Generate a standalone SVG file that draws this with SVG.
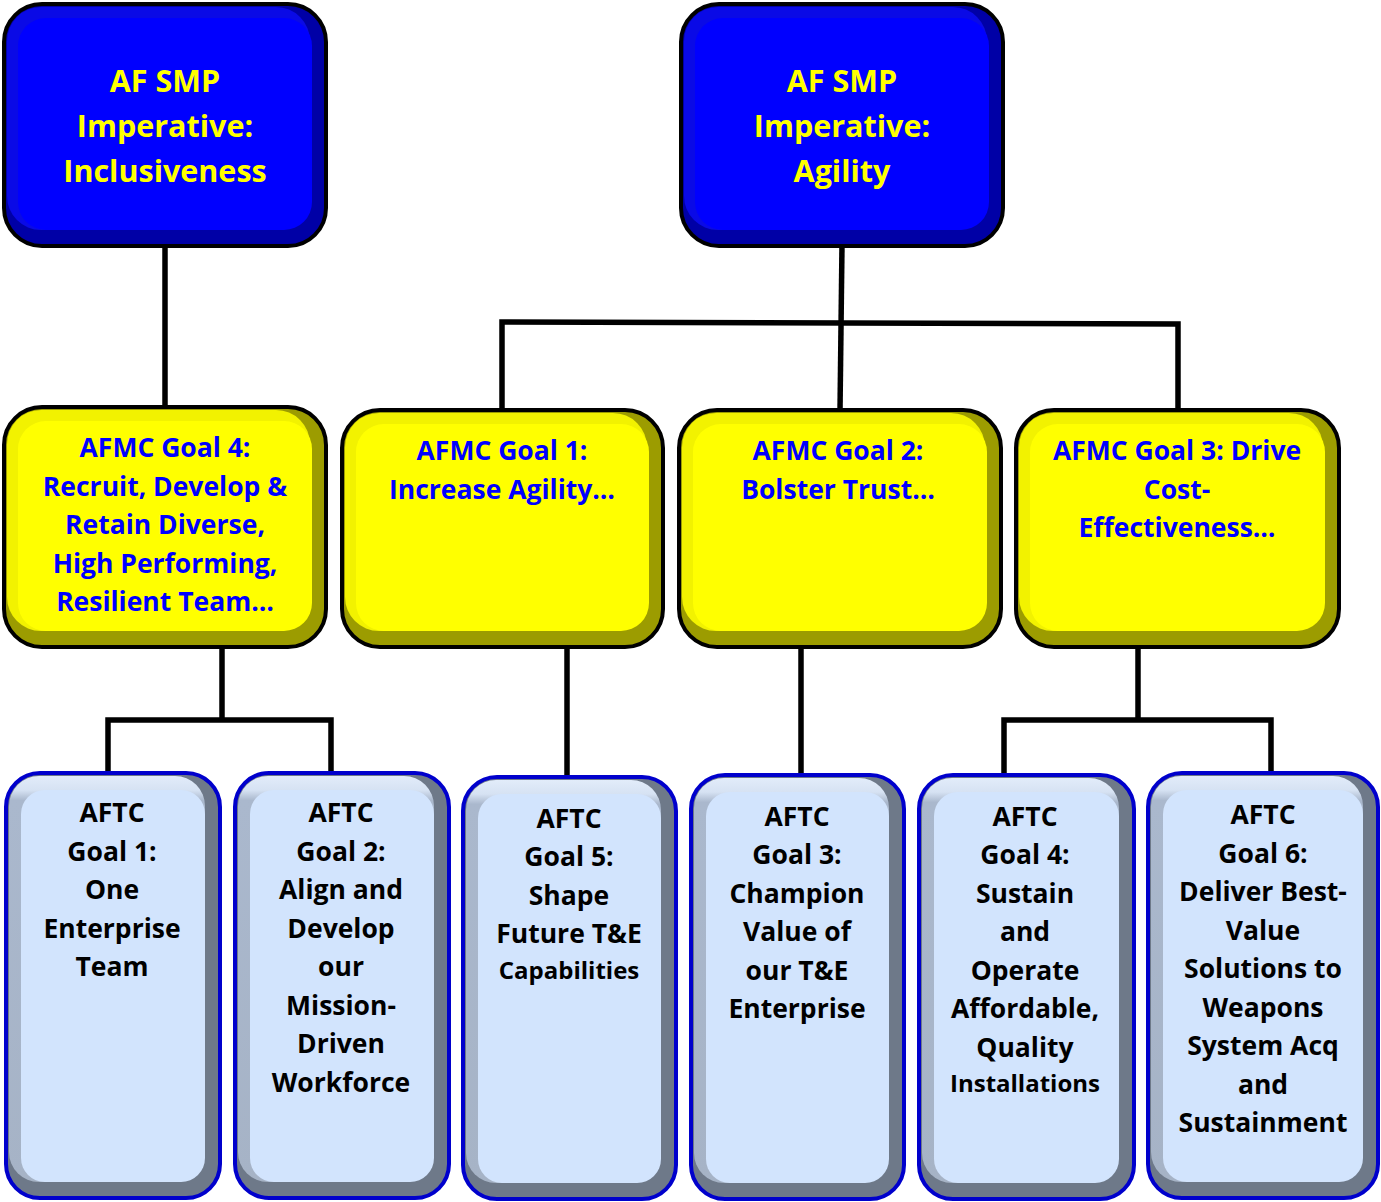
<svg xmlns="http://www.w3.org/2000/svg" width="1381" height="1202" viewBox="0 0 1381 1202">
<defs>
<linearGradient id="lmid" x1="0" y1="0" x2="0" y2="1">
<stop offset="0" stop-color="#e2ecfa"/>
<stop offset="0.035" stop-color="#d6e2f3"/>
<stop offset="0.06" stop-color="#aab8cd"/>
<stop offset="1" stop-color="#a6b3c6"/>
</linearGradient>
</defs>
<style>
.con{fill:none;stroke:#000;stroke-width:5.5;stroke-linejoin:miter}
.b-out{fill:#0000a6;stroke:#000;stroke-width:4}
.b-mid{fill:#0a0ae6}
.b-face{fill:#0000ff}
.y-out{fill:#9c9c00;stroke:#000;stroke-width:4}
.y-mid{fill:#f2f200}
.y-face{fill:#ffff00}
.l-out{fill:#6e7989;stroke:#0000cc;stroke-width:4}
.l-mid{fill:url(#lmid)}
.l-face{fill:#d2e4fd}
text{font-family:"Open Sans","Liberation Sans",sans-serif;font-weight:700;text-anchor:middle}
.tb{fill:#ffff00;font-size:30.5px}
.ty{fill:#0000ff;font-size:26.5px}
.tl{fill:#000;font-size:26.5px}
.sm{font-size:24px}
</style>
<g id="connectors">
<line class="con" x1="165" y1="245" x2="165" y2="408"/>
<line class="con" x1="842" y1="245" x2="840" y2="411"/>
<polyline class="con" points="502,411 502,322 1178,324 1178,411"/>
<polyline class="con" points="222,646 222,720"/>
<polyline class="con" points="108,774 108,720 331,720 331,774"/>
<line class="con" x1="567" y1="646" x2="567" y2="778"/>
<line class="con" x1="801" y1="646" x2="801" y2="776"/>
<polyline class="con" points="1138,646 1138,720"/>
<polyline class="con" points="1004,776 1004,720 1271,720 1271,774"/>
</g>
<g id="imp-inclusiveness">
<rect class="b-out" x="4" y="4" width="322" height="242" rx="38"/>
<rect class="b-mid" x="7" y="7" width="303" height="223" rx="34"/>
<rect class="b-face" x="18" y="18" width="294" height="212" rx="28"/>
<text class="tb" x="165" y="92">AF SMP</text>
<text class="tb" x="165" y="137">Imperative:</text>
<text class="tb" x="165" y="182">Inclusiveness</text>
</g>
<g id="imp-agility">
<rect class="b-out" x="681" y="4" width="322" height="242" rx="38"/>
<rect class="b-mid" x="684" y="7" width="303" height="223" rx="34"/>
<rect class="b-face" x="695" y="18" width="294" height="212" rx="28"/>
<text class="tb" x="842" y="92">AF SMP</text>
<text class="tb" x="842" y="137">Imperative:</text>
<text class="tb" x="842" y="182">Agility</text>
</g>
<g id="afmc-goal4">
<rect class="y-out" x="4" y="407" width="322" height="240" rx="38"/>
<rect class="y-mid" x="7" y="410" width="303" height="221" rx="34"/>
<rect class="y-face" x="18" y="421" width="294" height="210" rx="28"/>
<text class="ty" x="165" y="457">AFMC Goal 4:</text>
<text class="ty" x="165" y="496">Recruit, Develop &amp;</text>
<text class="ty" x="165" y="534">Retain Diverse,</text>
<text class="ty" x="165" y="573">High Performing,</text>
<text class="ty" x="165" y="611">Resilient Team…</text>
</g>
<g id="afmc-goal1">
<rect class="y-out" x="342" y="410" width="321" height="237" rx="38"/>
<rect class="y-mid" x="345" y="413" width="302" height="218" rx="34"/>
<rect class="y-face" x="356" y="424" width="293" height="207" rx="28"/>
<text class="ty" x="502" y="460">AFMC Goal 1:</text>
<text class="ty" x="502" y="499">Increase Agility…</text>
</g>
<g id="afmc-goal2">
<rect class="y-out" x="679" y="410" width="322" height="237" rx="38"/>
<rect class="y-mid" x="682" y="413" width="303" height="218" rx="34"/>
<rect class="y-face" x="693" y="424" width="294" height="207" rx="28"/>
<text class="ty" x="838" y="460">AFMC Goal 2:</text>
<text class="ty" x="838" y="499">Bolster Trust…</text>
</g>
<g id="afmc-goal3">
<rect class="y-out" x="1016" y="410" width="323" height="237" rx="38"/>
<rect class="y-mid" x="1019" y="413" width="304" height="218" rx="34"/>
<rect class="y-face" x="1030" y="424" width="295" height="207" rx="28"/>
<text class="ty" x="1177" y="460">AFMC Goal 3: Drive</text>
<text class="ty" x="1177" y="499">Cost-</text>
<text class="ty" x="1177" y="537">Effectiveness…</text>
</g>
<g id="aftc-goal1">
<rect class="l-out" x="6" y="773" width="214" height="425" rx="34"/>
<rect class="l-mid" x="9" y="776" width="196" height="406" rx="30"/>
<rect class="l-face" x="21" y="790" width="184" height="392" rx="24"/>
<text class="tl" x="112" y="822">AFTC</text>
<text class="tl" x="112" y="861">Goal 1:</text>
<text class="tl" x="112" y="899">One</text>
<text class="tl" x="112" y="938">Enterprise</text>
<text class="tl" x="112" y="976">Team</text>
</g>
<g id="aftc-goal2">
<rect class="l-out" x="235" y="773" width="214" height="425" rx="34"/>
<rect class="l-mid" x="238" y="776" width="196" height="406" rx="30"/>
<rect class="l-face" x="250" y="790" width="184" height="392" rx="24"/>
<text class="tl" x="341" y="822">AFTC</text>
<text class="tl" x="341" y="861">Goal 2:</text>
<text class="tl" x="341" y="899">Align and</text>
<text class="tl" x="341" y="938">Develop</text>
<text class="tl" x="341" y="976">our</text>
<text class="tl" x="341" y="1015">Mission-</text>
<text class="tl" x="341" y="1053">Driven</text>
<text class="tl" x="341" y="1092">Workforce</text>
</g>
<g id="aftc-goal5">
<rect class="l-out" x="463" y="777" width="213" height="422" rx="34"/>
<rect class="l-mid" x="466" y="780" width="195" height="403" rx="30"/>
<rect class="l-face" x="478" y="794" width="183" height="389" rx="24"/>
<text class="tl" x="569" y="828">AFTC</text>
<text class="tl" x="569" y="866">Goal 5:</text>
<text class="tl" x="569" y="905">Shape</text>
<text class="tl" x="569" y="943">Future T&amp;E</text>
<text class="tl sm" x="569" y="979">Capabilities</text>
</g>
<g id="aftc-goal3">
<rect class="l-out" x="691" y="775" width="213" height="424" rx="34"/>
<rect class="l-mid" x="694" y="778" width="195" height="405" rx="30"/>
<rect class="l-face" x="706" y="792" width="183" height="391" rx="24"/>
<text class="tl" x="797" y="826">AFTC</text>
<text class="tl" x="797" y="864">Goal 3:</text>
<text class="tl" x="797" y="903">Champion</text>
<text class="tl" x="797" y="941">Value of</text>
<text class="tl" x="797" y="980">our T&amp;E</text>
<text class="tl" x="797" y="1018">Enterprise</text>
</g>
<g id="aftc-goal4">
<rect class="l-out" x="919" y="775" width="215" height="424" rx="34"/>
<rect class="l-mid" x="922" y="778" width="197" height="405" rx="30"/>
<rect class="l-face" x="934" y="792" width="185" height="391" rx="24"/>
<text class="tl" x="1025" y="826">AFTC</text>
<text class="tl" x="1025" y="864">Goal 4:</text>
<text class="tl" x="1025" y="903">Sustain</text>
<text class="tl" x="1025" y="941">and</text>
<text class="tl" x="1025" y="980">Operate</text>
<text class="tl" x="1025" y="1018">Affordable,</text>
<text class="tl" x="1025" y="1057">Quality</text>
<text class="tl sm" x="1025" y="1092">Installations</text>
</g>
<g id="aftc-goal6">
<rect class="l-out" x="1148" y="773" width="230" height="425" rx="34"/>
<rect class="l-mid" x="1151" y="776" width="212" height="406" rx="30"/>
<rect class="l-face" x="1163" y="790" width="200" height="392" rx="24"/>
<text class="tl" x="1263" y="824">AFTC</text>
<text class="tl" x="1263" y="863">Goal 6:</text>
<text class="tl" x="1263" y="901">Deliver Best-</text>
<text class="tl" x="1263" y="940">Value</text>
<text class="tl" x="1263" y="978">Solutions to</text>
<text class="tl" x="1263" y="1017">Weapons</text>
<text class="tl" x="1263" y="1055">System Acq</text>
<text class="tl" x="1263" y="1094">and</text>
<text class="tl" x="1263" y="1132">Sustainment</text>
</g>
</svg>
